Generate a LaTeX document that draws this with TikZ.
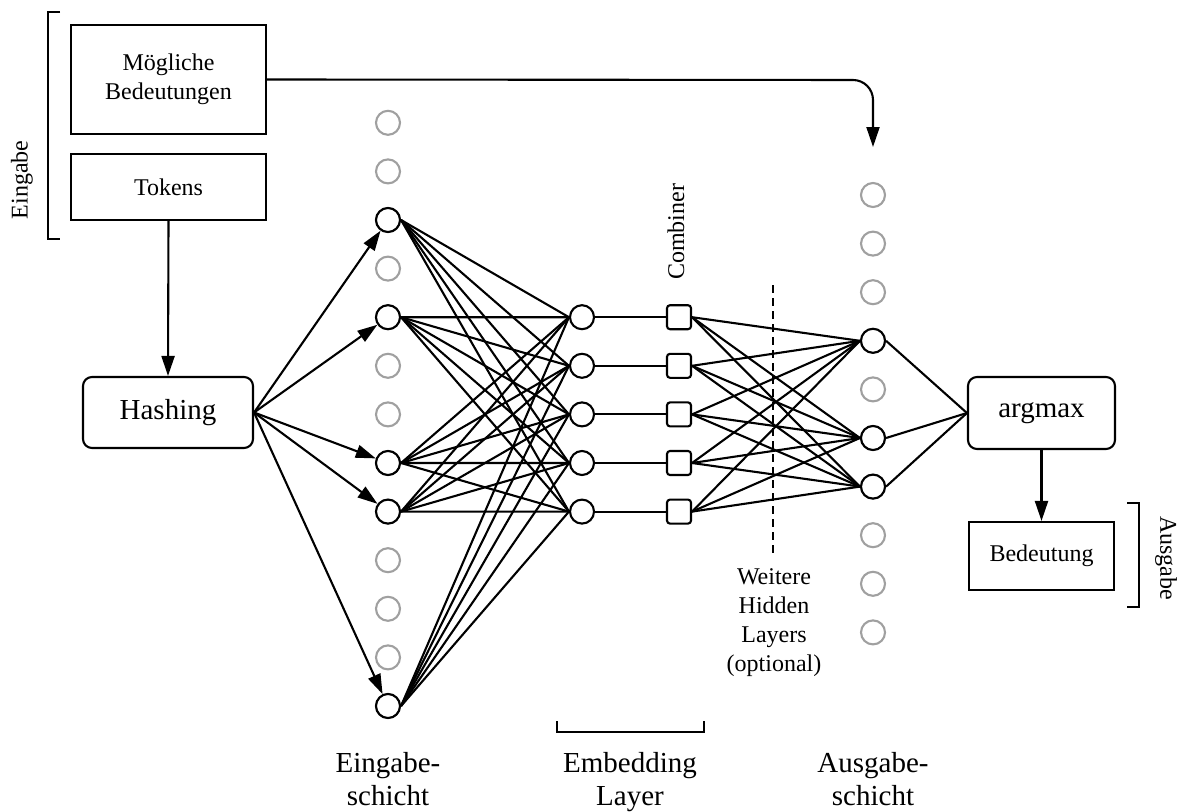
\documentclass[tikz,border=0pt]{standalone}
\usepackage{fontspec}
\setmainfont{Liberation Serif}
\usetikzlibrary{arrows.meta}
\definecolor{idlegray}{RGB}{160,160,160}

\tikzset{
  x=1pt, y=-1pt,
  lw/.style={line width=2.1pt},
  box/.style={draw, lw, align=center, inner sep=0pt,
    font=\fontsize{24}{28.5}\selectfont},
  rbox/.style={draw, lw, rounded corners=9pt, inner sep=0pt,
    font=\fontsize{29}{34}\selectfont},
  neuron/.style={circle, draw, lw, minimum size=24pt, inner sep=0pt, fill=white},
  idle/.style={neuron, draw=idlegray},
  comb/.style={draw, lw, rounded corners=3pt, minimum size=24pt, inner sep=0pt, fill=white},
  link/.style={lw},
  arr/.style={lw, -{Triangle[length=20pt,width=13pt]}},
  lbl/.style={align=center, inner sep=0pt, font=\fontsize{29}{33}\selectfont},
  small/.style={align=center, inner sep=0pt, font=\fontsize{24}{29}\selectfont},
  bracket/.style={lw}
}

\begin{document}
\begin{tikzpicture}
\useasboundingbox (0,0) rectangle (1183,811);

% input boxes and hashing
\node[box, minimum width=195pt, minimum height=109pt] (moeg) at (168.5,79.5) {Mögliche\\Bedeutungen};
\node[box, minimum width=195pt, minimum height=66pt] (tok) at (168.5,187) {Tokens};
\node[rbox, minimum width=170pt, minimum height=71pt] (hash) at (168,412.5) {Hashing};

% input bracket
\draw[bracket] (60,12) -- (48,12) -- (48,239) -- (60,239);
\node[small, rotate=90] (eing) at (22,180) {Eingabe};

% input layer (13 units, five of them active)
\foreach \k in {0,...,12} {
  \pgfmathsetmacro{\yy}{122.8+48.6*\k}
  \node[idle] (in\k) at (388,\yy) {};
}
\foreach \k in {2,4,7,8,12} {
  \pgfmathsetmacro{\yy}{122.8+48.6*\k}
  \node[neuron] (in\k) at (388,\yy) {};
}

% embedding layer and combiner
\foreach \j in {0,...,4} {
  \pgfmathsetmacro{\yy}{317.2+48.6*\j}
  \node[neuron] (emb\j) at (582,\yy) {};
  \node[comb] (cmb\j) at (679,\yy) {};
}
\node[small, rotate=90] (combl) at (676,232) {Combiner};

% output layer (10 units, three of them active)
\foreach \k in {0,...,9} {
  \pgfmathsetmacro{\yy}{195+48.6*\k}
  \node[idle] (out\k) at (873,\yy) {};
}
\foreach \k in {3,5,6} {
  \pgfmathsetmacro{\yy}{195+48.6*\k}
  \node[neuron] (out\k) at (873,\yy) {};
}

% argmax and result
\node[rbox, minimum width=147pt, minimum height=72pt] (amax) at (1041.5,413) {argmax};
\node[box, minimum width=145pt, minimum height=68pt] (bed) at (1041.5,556) {Bedeutung};

% output bracket
\draw[bracket] (1127,503) -- (1139,503) -- (1139,607) -- (1127,607);
\node[small, rotate=-90] (ausg) at (1166,558) {Ausgabe};

% hidden-layer marker
\coordinate (dtop) at (773,285);
\coordinate (dbot) at (773,553);
\draw[lw, dash pattern=on 8pt off 5pt] (dtop) -- (dbot);
\node[small] (weit) at (774,623) {Weitere\\Hidden\\Layers\\(optional)};

% embedding bracket
\draw[bracket] (557,721) -- (557,732) -- (704,732) -- (704,721);

% layer captions
\node[lbl] (capin) at (388,778.6) {Eingabe-\\schicht};
\node[lbl] (capemb) at (630,781.7) {Embedding\\Layer};
\node[lbl] (capout) at (873,778.6) {Ausgabe-\\schicht};

% connectors
\draw[arr] (tok.south) -- (hash.north);
\foreach \k in {2,4,7,8,12}
  \draw[arr] (hash.east) -- (in\k);
\foreach \k in {2,4,7,8,12}
  \foreach \j in {0,...,4}
    \draw[link] (in\k.east) -- (emb\j.west);
\foreach \j in {0,...,4} {
  \draw[link] (emb\j.east) -- (cmb\j.west);
  \foreach \k in {3,5,6}
    \draw[link] (cmb\j.east) -- (out\k.west);
}
\foreach \k in {3,5,6}
  \draw[link] (out\k.east) -- (amax.west);
\draw[arr] (amax.south) -- (bed.north);

\coordinate (outin) at (873,147);
\draw[arr, rounded corners=20pt] (moeg.east) -- (873,80) -- (outin);
\end{tikzpicture}
\end{document}
